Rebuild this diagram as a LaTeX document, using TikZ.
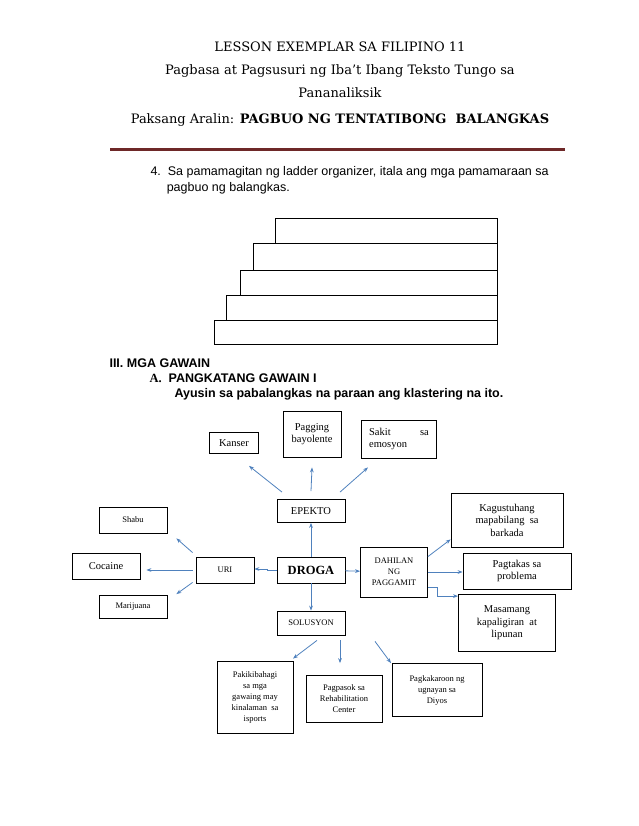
\documentclass[tikz,border=0pt]{standalone}
\usepackage{fontspec}
\setmainfont{Liberation Serif}
\newfontfamily\headfont{DejaVu Serif}
\newfontfamily\arialfont{Liberation Sans}
\usetikzlibrary{arrows.meta, positioning}
\definecolor{linkblue}{RGB}{79,129,189}
\definecolor{rulered}{RGB}{110,40,40}
\tikzstyle{box} = [
  rectangle,
  draw=black,
  thick,
  align=center,
  inner sep=2pt,
  font=\fontsize{10.5}{12.5}\selectfont
]
\tikzstyle{smallbox} = [box, font=\fontsize{8.5}{11}\selectfont]
\tikzstyle{rung} = [draw=black, thick]
\tikzstyle{arrow} = [draw=linkblue, thick, -{Stealth[length=5pt]}]
\tikzstyle{head} = [font=\headfont\fontsize{13}{15}\selectfont]
\tikzstyle{body} = [anchor=west, font=\arialfont\fontsize{12.5}{16}\selectfont]
\tikzstyle{bodybold} = [body, font=\arialfont\bfseries\fontsize{12.5}{15}\selectfont]

\begin{document}
\begin{tikzpicture}[x=1pt, y=-1pt]
    \useasboundingbox (0,0) rectangle (638,826);

    % header
    \node (title) [head] at (340,47) {LESSON EXEMPLAR SA FILIPINO 11};
    \node (subject) [head] at (340,71) {Pagbasa at Pagsusuri ng Iba’t Ibang Teksto Tungo sa};
    \node (subject2) [head] at (340,93) {Pananaliksik};
    \node (topic) [head] at (340,120) {Paksang Aralin: \textbf{PAGBUO NG TENTATIBONG\ \ BALANGKAS}};
    \draw [rulered, line width=3pt] (110,150) -- (565,150);

    \node (item) [body, align=left] at (147,180) {4.\ \ Sa pamamagitan ng ladder organizer, itala ang mga pamamaraan sa\\ \hspace*{1.3em}pagbuo ng balangkas.};

    % ladder
    \draw [rung] (214,320) rectangle (497,344);
    \draw [rung] (226,295) rectangle (497,320);
    \draw [rung] (240,270) rectangle (497,295);
    \draw [rung] (253,243) rectangle (497,270);
    \draw [rung] (275,218) rectangle (497,243);

    \node (gawain) [bodybold] at (106,363) {III. MGA GAWAIN};
    \node (pangkat) [bodybold] at (146,378) {{\rmfamily A.}\ \ PANGKATANG GAWAIN I};
    \node (ayusin) [bodybold] at (171,394) {Ayusin sa pabalangkas na paraan ang klastering na ito.};

    % cluster
    \node (droga) [box, minimum width=68pt, minimum height=26pt, font=\bfseries\fontsize{12.5}{14}\selectfont] at (311,570) {DROGA};
    \node (epekto) [box, minimum width=68pt, minimum height=23pt] at (311,511) {EPEKTO};
    \node (uri) [smallbox, minimum width=58pt, minimum height=26pt] at (225,570) {URI};
    \node (solusyon) [smallbox, minimum width=68pt, minimum height=24pt] at (311,623) {SOLUSYON};
    \node (dahilan) [smallbox, minimum width=67pt, minimum height=50pt] at (394,572) {DAHILAN\\NG\\PAGGAMIT};

    \node (kanser) [box, minimum width=49pt, minimum height=21pt] at (234,443) {Kanser};
    \node (bayolente) [box, minimum width=58pt, minimum height=46pt] at (312,434) {Pagging\\bayolente};
    \node (sakit) [box, minimum width=75pt, minimum height=38pt, align=left] at (399,439) {Sakit\hspace{2.8em}sa\\emosyon};

    \node (shabu) [smallbox, minimum width=68pt, minimum height=26pt] at (133,520) {Shabu};
    \node (cocaine) [box, minimum width=68pt, minimum height=26pt] at (106,566) {Cocaine};
    \node (marijuana) [smallbox, minimum width=68pt, minimum height=23pt] at (133,607) {Marijuana};

    \node (kagustuhan) [box, minimum width=112pt, minimum height=54pt] at (507,520) {Kagustuhang\\mapabilang\ \ sa\\barkada};
    \node (pagtakas) [box, minimum width=108pt, minimum height=36pt] at (517,571) {Pagtakas sa\\problema};
    \node (masamang) [box, minimum width=97pt, minimum height=57pt] at (507,623) {Masamang\\kapaligiran\ \ at\\lipunan};

    \node (isports) [smallbox, minimum width=76pt, minimum height=72pt] at (255,697) {Pakikibahagi\\sa mga\\gawaing may\\kinalaman\ \ sa\\isports};
    \node (rehab) [smallbox, minimum width=76pt, minimum height=47pt] at (344,699) {Pagpasok sa\\Rehabilitation\\Center};
    \node (diyos) [smallbox, minimum width=90pt, minimum height=53pt] at (437,690) {Pagkakaroon ng\\ugnayan sa\\Diyos};

    \draw [arrow] ([xshift=-29pt,yshift=7pt]epekto.north) -- ([xshift=15pt,yshift=-12pt]kanser.south);
    \draw [arrow] ([yshift=8pt]epekto.north) -- ([yshift=-10pt]bayolente.south);
    \draw [arrow] ([xshift=29pt,yshift=7pt]epekto.north) -- ([xshift=-31pt,yshift=-9pt]sakit.south);
    \draw [arrow] (droga) -- (epekto);
    \draw [arrow] (droga.west) -- ++(-9pt,0) |- ([yshift=1pt]uri.east);
    \draw [arrow] (droga) -- (dahilan);
    \draw [arrow] (droga) -- (solusyon);

    \draw [arrow] ([xshift=-3pt,yshift=4pt]uri.north west) -- ([xshift=9pt,yshift=-5pt]shabu.south east);
    \draw [arrow] ([xshift=-3pt]uri.west) -- ([xshift=6pt]uri.west -| cocaine.east);
    \draw [arrow] ([xshift=-3pt,yshift=1pt]uri.south west) -- ([xshift=9pt,yshift=1pt]marijuana.north east);

    \draw [arrow] ([yshift=-10pt]dahilan.north east) -- ([yshift=8pt]kagustuhan.south west);
    \draw [arrow] (dahilan.east) -- (dahilan.east -| pagtakas.west);
    \draw [arrow] ([yshift=10pt]dahilan.south east) -- ++(9pt,0) |- ([yshift=-2pt]masamang.north west);

    \draw [arrow] ([xshift=6pt,yshift=-5pt]solusyon.south) -- ([xshift=38pt,yshift=2pt]isports.north);
    \draw [arrow] ([xshift=29pt,yshift=-5pt]solusyon.south) -- ([xshift=-4pt,yshift=12pt]rehab.north);
    \draw [arrow] ([xshift=64pt,yshift=-6pt]solusyon.south) -- ([xshift=-46pt,yshift=0pt]diyos.north);
  \end{tikzpicture}
\end{document}
